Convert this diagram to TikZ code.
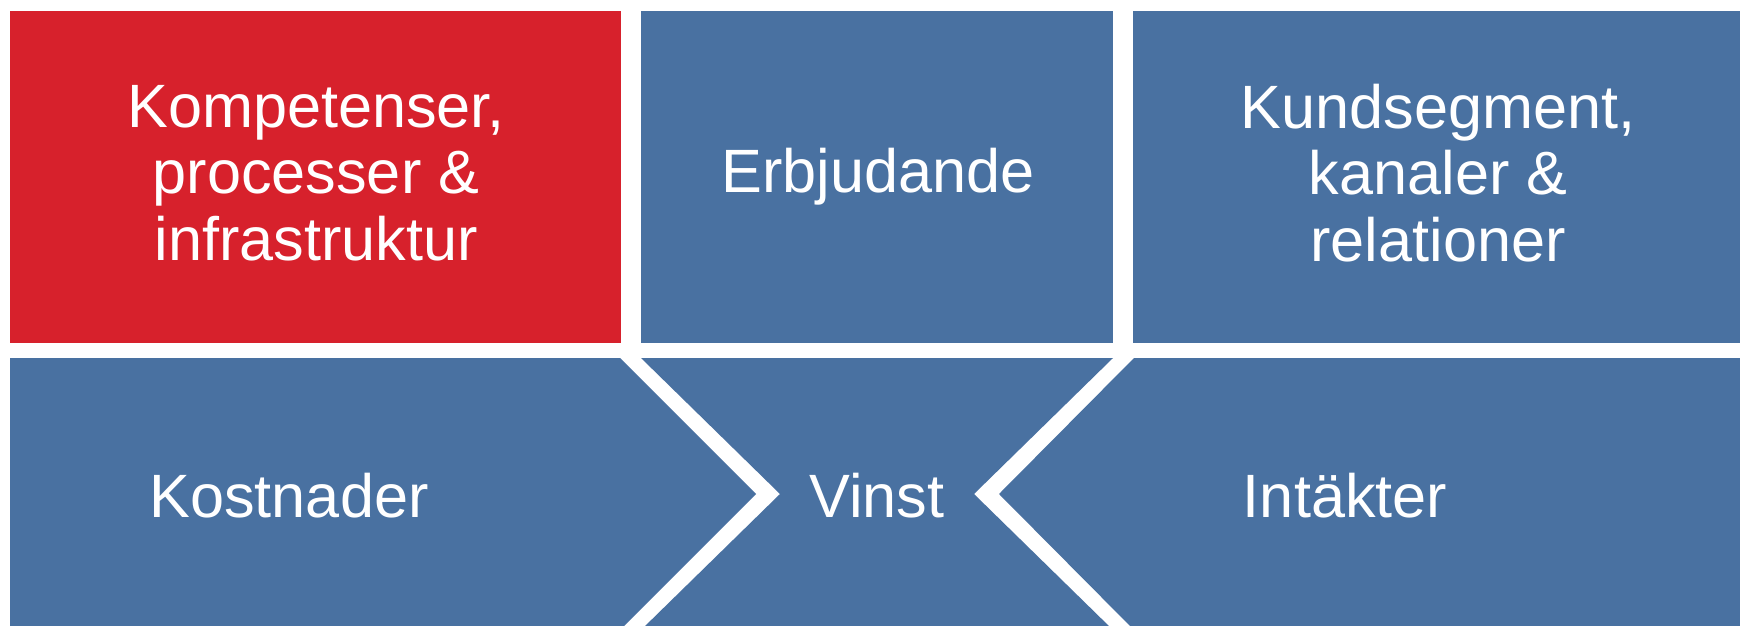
\documentclass[tikz,border=0pt]{standalone}
\usepackage{fontspec}
\setmainfont{Liberation Sans}
\definecolor{kred}{HTML}{D7212C}
\definecolor{kblue}{HTML}{4971A1}
\begin{document}
\begin{tikzpicture}[x=0.5pt,y=-0.5pt,
  txt/.style={text=white,align=center,inner sep=0,font=\fontsize{30.6}{33.3}\selectfont}]
%%
\newcommand{\fld}[3][]{\node[txt](#1) at (#2){#3};}
%%
\clip (0,0) rectangle (1740,626);
\fill[white] (0,0) rectangle (1740,626);
%
\fill[kred]  (10,11) rectangle (621,343);
\fill[kblue] (641,11) rectangle (1113,343);
\fill[kblue] (1133,11) rectangle (1740,343);
%
\fill[kblue] (10,358) -- (620,358) -- (756,494) -- (620,630) -- (10,630) -- cycle;
\fill[kblue] (641,358) -- (1113,358) -- (974,494) -- (1113,630) -- (641,630) -- (780,494) -- cycle;
\fill[kblue] (1134,358) -- (1740,358) -- (1740,630) -- (1134,630) -- (999,494) -- cycle;
%
\fld[komp]{316,173}{Kompetenser,\\processer \&\\infrastruktur}
\fld[erbj]{878,177}{Erbjudande}
\fld[kund]{1438,173}{Kundsegment,\\kanaler \&\\relationer}
\fld[kost]{289,496}{Kostnader}
\fld[vinst]{877,496}{Vinst}
\fld[intk]{1345,496}{Intäkter}
\end{tikzpicture}
\end{document}
